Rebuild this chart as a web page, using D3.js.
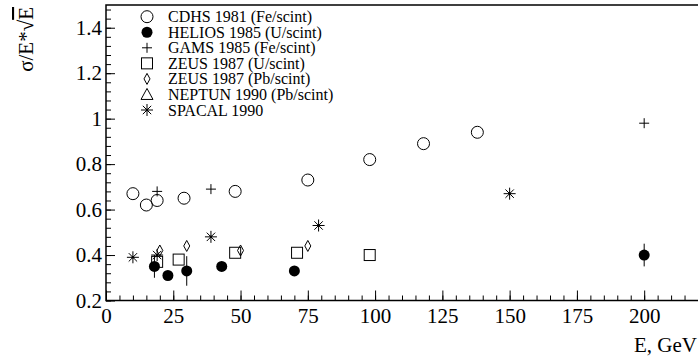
<!DOCTYPE html>
<html><head><meta charset="utf-8">
<script src="https://cdn.jsdelivr.net/npm/d3@7/dist/d3.min.js"></script>
<style>
html,body{margin:0;padding:0;background:#fff;}
svg{display:block;}
text{font-family:"Liberation Serif","Times New Roman",serif;fill:#000;}
</style></head>
<body>
<svg id="c" width="698" height="358"></svg>
<script>
// ---- data ----
const seriesNames = ["CDHS 1981 (Fe/scint)","HELIOS 1985 (U/scint)","GAMS 1985 (Fe/scint)","ZEUS 1987 (U/scint)","ZEUS 1987 (Pb/scint)","NEPTUN 1990 (Pb/scint)","SPACAL 1990"];
const cdhsE = [10, 15, 19, 29, 48, 75, 98, 118, 138];
const cdhsR = [0.67, 0.62, 0.64, 0.65, 0.68, 0.73, 0.82, 0.89, 0.94];
const heliosE = [18, 23, 30, 43, 70, 200];
const heliosR = [0.35, 0.31, 0.33, 0.35, 0.33, 0.40];
const heliosErr = [0.05, 0, 0.065, 0.015, 0, 0.05];
const gamsE = [19, 39, 200];
const gamsR = [0.68, 0.69, 0.98];
const zeusUE = [19, 27, 48, 71, 98];
const zeusUR = [0.37, 0.38, 0.41, 0.41, 0.40];
const zeusPbE = [20, 30, 50, 75];
const zeusPbR = [0.42, 0.44, 0.42, 0.44];
const neptunE = [];
const neptunR = [];
const spacalE = [10, 19, 39, 79, 150];
const spacalR = [0.39, 0.40, 0.48, 0.53, 0.67];
const xTicks = [0, 25, 50, 75, 100, 125, 150, 175, 200];
const yTicks = [0.2, 0.4, 0.6, 0.8, 1, 1.2, 1.4];

// ---- layout ----
const svg = d3.select("#c");
const L = 106, R = 698, T = 5, B = 300.5;
const x = d3.scaleLinear().domain([0, 220]).range([L, R]);
const y = d3.scaleLinear().domain([0.2, 1.5]).range([B, T]);

// frame
svg.append("rect").attr("x", L).attr("y", T).attr("width", R - L + 2).attr("height", B - T)
  .attr("fill", "none").attr("stroke", "#000").attr("stroke-width", 1.5);

// x axis
const xMinor = d3.range(0, 221, 5);
svg.append("g").attr("transform", `translate(0,${B})`)
  .call(d3.axisBottom(x).tickValues(xMinor).tickSizeInner(-5).tickSizeOuter(0).tickFormat(""))
  .call(g => g.select(".domain").remove());
const gx = svg.append("g").attr("transform", `translate(0,${B})`)
  .call(d3.axisBottom(x).tickValues(xTicks).tickSizeInner(-10).tickSizeOuter(0).tickPadding(8).tickFormat(d3.format("d")));
gx.select(".domain").remove();
gx.selectAll("text").attr("font-size", 21).attr("font-family", "Liberation Serif");

// y axis
const yMinor = d3.range(0.2, 1.5001, 0.04);
svg.append("g").attr("transform", `translate(${L},0)`)
  .call(d3.axisLeft(y).tickValues(yMinor).tickSizeInner(-5).tickSizeOuter(0).tickFormat(""))
  .call(g => g.select(".domain").remove());
const gy = svg.append("g").attr("transform", `translate(${L},0)`)
  .call(d3.axisLeft(y).tickValues(yTicks).tickSizeInner(-9).tickSizeOuter(0).tickPadding(4).tickFormat(d => String(d)));
gy.select(".domain").remove();
gy.selectAll("text").attr("font-size", 21).attr("font-family", "Liberation Serif");
svg.selectAll(".tick line").attr("stroke", "#000").attr("stroke-width", 1);

// axis titles
svg.append("text").attr("x", 697).attr("y", 352).attr("text-anchor", "end")
  .attr("font-size", 21).text("E, GeV");
const yt = svg.append("text").attr("transform", "translate(33,7) rotate(-90)")
  .attr("text-anchor", "end").attr("font-size", 21);
yt.append("tspan").text("σ/E*√");
yt.append("tspan").attr("text-decoration", "overline").style("text-decoration", "overline").text("E");

// ---- marker painters ----
function drawMarker(g, type, cx, cy) {
  const s = "#000";
  if (type === "circle") {
    g.append("circle").attr("cx", cx).attr("cy", cy).attr("r", 6).attr("fill", "none").attr("stroke", s).attr("stroke-width", 1);
  } else if (type === "dot") {
    g.append("circle").attr("cx", cx).attr("cy", cy).attr("r", 5.5).attr("fill", s);
  } else if (type === "plus") {
    g.append("path").attr("d", `M${cx-5},${cy}H${cx+5}M${cx},${cy-5}V${cy+5}`).attr("stroke", s).attr("stroke-width", 1);
  } else if (type === "square") {
    g.append("rect").attr("x", cx-5.5).attr("y", cy-5.5).attr("width", 11).attr("height", 11).attr("fill", "none").attr("stroke", s).attr("stroke-width", 1);
  } else if (type === "diamond") {
    g.append("path").attr("d", `M${cx},${cy-5.5}L${cx+3},${cy}L${cx},${cy+5.5}L${cx-3},${cy}Z`).attr("fill", "none").attr("stroke", s).attr("stroke-width", 1);
  } else if (type === "triangle") {
    g.append("path").attr("d", `M${cx},${cy-6}L${cx+6},${cy+5}L${cx-6},${cy+5}Z`).attr("fill", "none").attr("stroke", s).attr("stroke-width", 1);
  } else if (type === "star") {
    const a = 6, d = 4.2;
    g.append("path").attr("d", `M${cx-a},${cy}H${cx+a}M${cx},${cy-a}V${cy+a}M${cx-d},${cy-d}L${cx+d},${cy+d}M${cx-d},${cy+d}L${cx+d},${cy-d}`)
      .attr("stroke", s).attr("stroke-width", 1);
    g.append("circle").attr("cx", cx).attr("cy", cy).attr("r", 1.3).attr("fill", s);
  }
}

const series = [
  {E: cdhsE, R: cdhsR, type: "circle"},
  {E: heliosE, R: heliosR, err: heliosErr, type: "dot"},
  {E: gamsE, R: gamsR, type: "plus"},
  {E: zeusUE, R: zeusUR, type: "square"},
  {E: zeusPbE, R: zeusPbR, type: "diamond"},
  {E: neptunE, R: neptunR, type: "triangle"},
  {E: spacalE, R: spacalR, type: "star"}
];

const gp = svg.append("g");
series.forEach(sr => {
  sr.E.forEach((e, i) => {
    if (sr.err && sr.err[i] > 0) {
      gp.append("line").attr("x1", x(e)).attr("x2", x(e))
        .attr("y1", y(sr.R[i] - sr.err[i])).attr("y2", y(sr.R[i] + sr.err[i]))
        .attr("stroke", "#000").attr("stroke-width", 1);
    }
    drawMarker(gp, sr.type, x(e), y(sr.R[i]));
  });
});

// ---- legend ----
const lg = svg.append("g");
const legY = d3.scaleLinear().domain([0, 6]).range([16.7, 110]);
seriesNames.forEach((n, i) => {
  drawMarker(lg, series[i].type, 147, legY(i));
  lg.append("text").attr("x", 168).attr("y", legY(i) + 5.5).attr("font-size", 16).text(n);
});
</script>
</body></html>
